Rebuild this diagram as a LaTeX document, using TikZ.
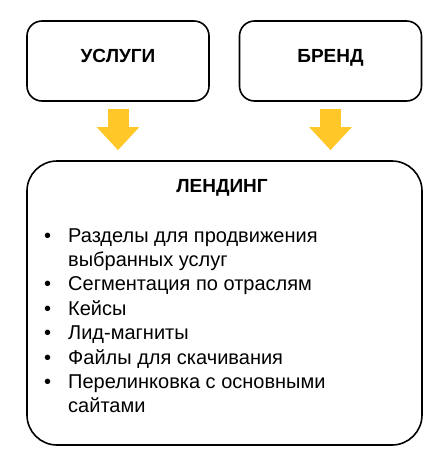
\documentclass[tikz,border=0pt]{standalone}
\usepackage{fontspec}
\setmainfont{Liberation Sans}
\usepackage{tikz}
\usetikzlibrary{positioning,arrows.meta}
\tikzset{
  box/.style={rectangle, draw=black, line width=1.6pt, rounded corners=15pt,
              minimum width=182pt, minimum height=80pt, inner sep=0pt,
              font=\fontsize{19}{23}\selectfont\bfseries, text depth=9.6pt},
  bigbox/.style={rectangle, draw=black, line width=1.6pt, rounded corners=30pt,
                 minimum width=395pt, minimum height=284pt, inner sep=0pt},
  head/.style={font=\fontsize{19}{23}\selectfont\bfseries, anchor=base, inner sep=0pt},
  items/.style={font=\fontsize{20}{24.4}\selectfont, anchor=north west, inner sep=0pt, align=left},
  yarr/.style={draw=sun, line width=21pt, -{Triangle[width=41pt,length=23pt]}},
}
\definecolor{sun}{HTML}{FFC828}

\begin{document}
\begin{tikzpicture}[x=1pt,y=-1pt]
  \useasboundingbox (0,0) rectangle (437,453);
  \node[box] (uslugi) at (118,61) {УСЛУГИ};
  \node[box] (brend) at (330.5,61) {БРЕНД};
  \node[bigbox] (landing) at (224.5,303) {};
  \node[head] (title) at (222,192) {ЛЕНДИНГ};
  \node[items] (list) at (44,224.9) {%
    \begin{tabular}{@{}l@{\hspace{17pt}}l@{}}
      • & Разделы для продвижения\\
        & выбранных услуг\\
      • & Сегментация по отраслям\\
      • & Кейсы\\
      • & Лид-магниты\\
      • & Файлы для скачивания\\
      • & Перелинковка с основными\\
        & сайтами
    \end{tabular}};
  \draw[yarr] ([yshift=-7pt]uslugi.south) -- ([yshift=10pt]uslugi.south |- landing.north);
  \draw[yarr] ([yshift=-7pt]brend.south) -- ([yshift=10pt]brend.south |- landing.north);
\end{tikzpicture}
\end{document}
